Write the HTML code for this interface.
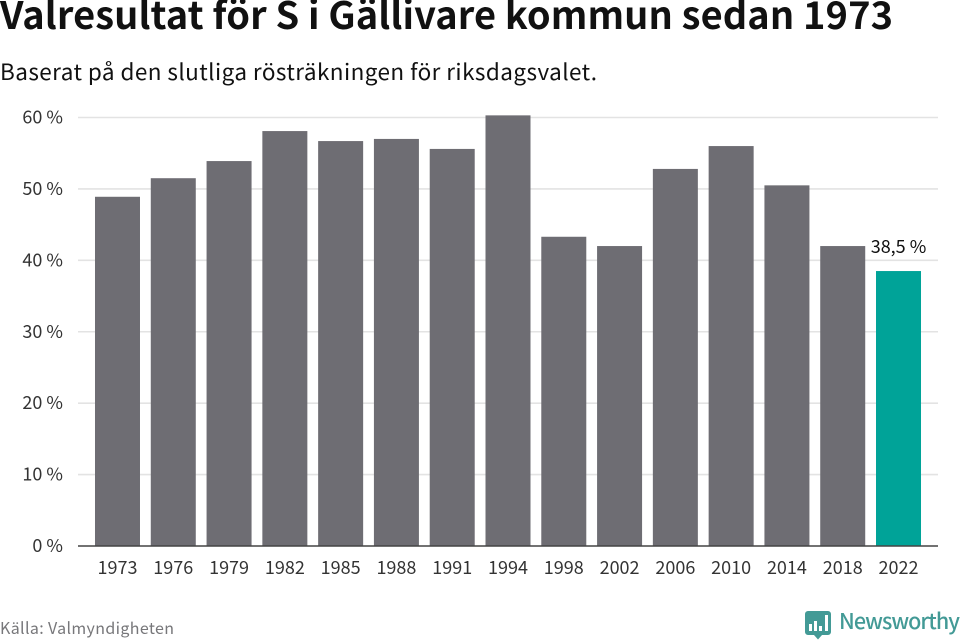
<!DOCTYPE html>
<html lang="sv">
<head>
<meta charset="utf-8">
<title>Valresultat för S i Gällivare kommun sedan 1973</title>
<style>
html,body{margin:0;padding:0;background:#fff;width:960px;height:640px;overflow:hidden}
svg{display:block}
text{font-family:"Noto Sans CJK JP","Liberation Sans",sans-serif}
</style>
</head>
<body>
<svg id="chart" width="960" height="640" viewBox="0 0 960 640" xmlns="http://www.w3.org/2000/svg">
<text x="0" y="29" font-size="38" font-weight="700" fill="#111" textLength="893" lengthAdjust="spacing">Valresultat för S i Gällivare kommun sedan 1973</text>
<text x="0" y="80" font-size="22.5" fill="#111" textLength="597" lengthAdjust="spacing">Baserat på den slutliga rösträkningen för riksdagsvalet.</text>
<g id="grid"></g>
<g id="bars"></g>
<line x1="78" x2="938" y1="546" y2="546" stroke="#444" stroke-width="1.6"></line>
<g id="xlabels"></g>
<g id="ylabels"></g>
<g id="vlabels"></g>
<text x="0" y="634" font-size="16" fill="#77777a" textLength="174" lengthAdjust="spacing">Källa: Valmyndigheten</text>
<g>
<path d="M808 611h20a3 3 0 0 1 3 3v18a3 3 0 0 1-3 3h-6l-4 4.500-4-4.500h-6a3 3 0 0 1-3-3v-18a3 3 0 0 1 3-3z" fill="#439a96"></path>
<path d="M809 624h3v7h-3zM814 621h3v10h-3zM819 626h3v5h-3zM825 615h3v16h-3z" fill="#fff"></path>
<text x="839" y="629" font-size="21.500" font-weight="500" fill="#439a96" textLength="121" lengthAdjust="spacing">Newsworthy</text>
</g>
</svg>
<script>
const categories = ["1973","1976","1979","1982","1985","1988","1991","1994","1998","2002","2006","2010","2014","2018","2022"];
const seriesValues = [48.9,51.5,53.9,58.1,56.7,57.0,55.6,60.3,43.3,42.0,52.8,56.0,50.5,42.0,38.5];
const yTicks = [0,10,20,30,40,50,60];
const highlightedCategory = "2022";
const highlightLabel = "38,5 %";

const NS = "http://www.w3.org/2000/svg";
const plot = {left: 89.6, right: 926.4, bottom: 546, top: 117.5, maxValue: 60};
const step = (plot.right - plot.left) / categories.length;
const barWidth = 45;
function xCenter(i) { return plot.left + step * (i + 0.5); }
function yScale(v) { return plot.bottom - (v / plot.maxValue) * (plot.bottom - plot.top); }
function make(tag, attrs, text) {
  const el = document.createElementNS(NS, tag);
  for (const k in attrs) el.setAttribute(k, attrs[k]);
  if (text !== undefined) el.textContent = text;
  return el;
}
const gridG = document.getElementById("grid");
const barsG = document.getElementById("bars");
const xG = document.getElementById("xlabels");
const yG = document.getElementById("ylabels");
const vG = document.getElementById("vlabels");

yTicks.forEach(function (t) {
  if (t !== 0) {
    const line = make("line", {x1: 78, x2: 938, y1: yScale(t), y2: yScale(t), stroke: "#e3e3e3", "stroke-width": 1.6});
    
    
    gridG.appendChild(line);
  }
  const label = make("text", {x: 63, y: yScale(t) + 6, "text-anchor": "end", "font-size": 18, fill: "#333"}, t + " %");
  
  
  yG.appendChild(label);
});

categories.forEach(function (c, i) {
  const v = seriesValues[i];
  const isHighlight = c === highlightedCategory;
  const bar = make("rect", {
    x: xCenter(i) - barWidth / 2,
    y: yScale(v),
    width: barWidth,
    height: plot.bottom - yScale(v),
    fill: isHighlight ? "#00a398" : "#6e6d73"
  });
  
  
  barsG.appendChild(bar);

  const label = make("text", {x: xCenter(i), y: 574, "text-anchor": "middle", "font-size": 18, fill: "#333"}, c);
  
  
  xG.appendChild(label);

  if (isHighlight) {
    const valueLabel = make("text", {x: xCenter(i), y: yScale(v) - 18, "text-anchor": "middle", "font-size": 18, fill: "#111"}, highlightLabel);
    
    
    vG.appendChild(valueLabel);
  }
});
</script>
</body>
</html>
